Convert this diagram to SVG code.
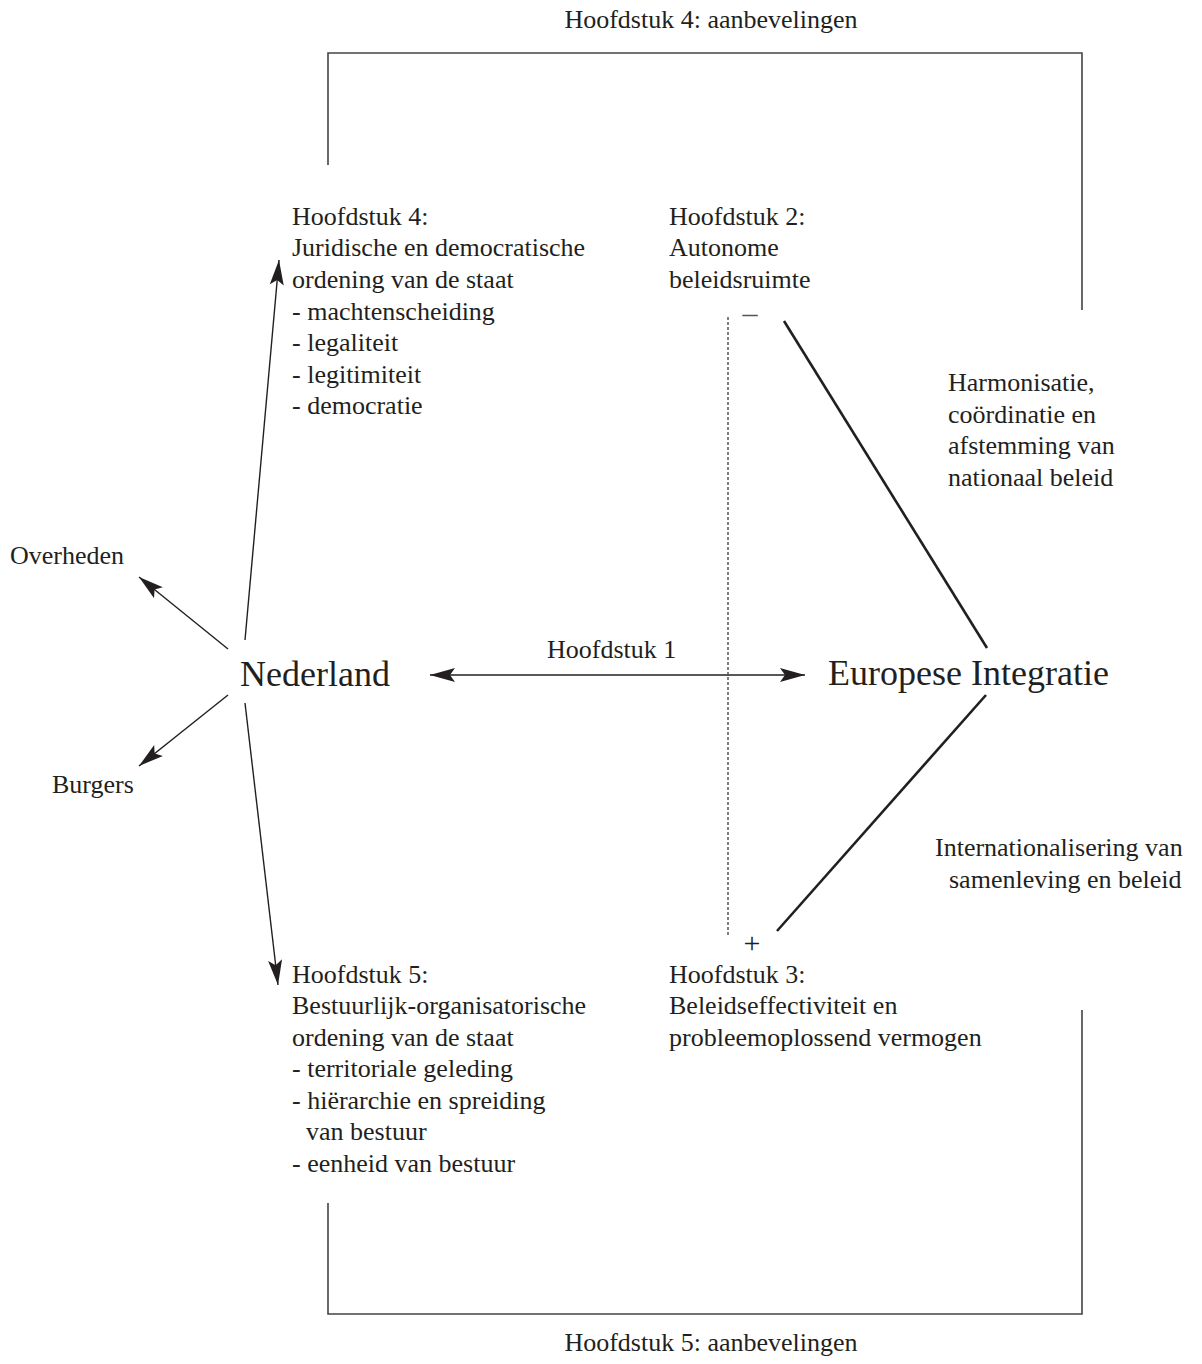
<svg xmlns="http://www.w3.org/2000/svg" width="1202" height="1364" viewBox="0 0 1202 1364">
<style>
text { font-family: "Liberation Serif", "Times New Roman", serif; font-size: 26px; fill: #231f20; }
.big { font-size: 36px; }
.sign { font-size: 30px; }
.frame { fill: none; stroke: #444; stroke-width: 1.6; }
.arrow { fill: none; stroke: #231f20; stroke-width: 1.4; }
.thick { fill: none; stroke: #231f20; stroke-width: 2.6; }
.dash { fill: none; stroke: #555; stroke-width: 1.5; stroke-dasharray: 3 2; }
</style>
<defs>
<marker id="ah" viewBox="-26 -8 28 16" refX="0" refY="0" markerWidth="28" markerHeight="16" markerUnits="userSpaceOnUse" orient="auto-start-reverse">
<path d="M0,0 L-25,-7 L-20,0 L-25,7 Z" fill="#231f20"/>
</marker>
</defs>
<rect width="1202" height="1364" fill="#fff"/>

<g id="frame">
<polyline class="frame" points="328,165 328,53 1082,53 1082,310"/>
<polyline class="frame" points="328,1203 328,1314 1082,1314 1082,1010"/>
</g>

<g id="connectors">
<line class="arrow" x1="430" y1="675" x2="805" y2="675" marker-start="url(#ah)" marker-end="url(#ah)"/>
<line class="arrow" x1="245" y1="640" x2="279" y2="260" marker-end="url(#ah)"/>
<line class="arrow" x1="245" y1="703" x2="278" y2="985" marker-end="url(#ah)"/>
<line class="arrow" x1="228" y1="649" x2="139" y2="577" marker-end="url(#ah)"/>
<line class="arrow" x1="228" y1="695" x2="139" y2="766" marker-end="url(#ah)"/>
<line class="thick" x1="784" y1="321" x2="987" y2="648"/>
<line class="thick" x1="986" y1="695" x2="777" y2="931"/>
<line class="dash" x1="728" y1="317" x2="728" y2="935"/>
</g>

<g id="label-top"><text x="711" y="28" text-anchor="middle">Hoofdstuk 4: aanbevelingen</text></g>
<g id="label-bottom"><text x="711" y="1351" text-anchor="middle">Hoofdstuk 5: aanbevelingen</text></g>

<g id="h4">
<text x="292" y="225">Hoofdstuk 4:</text>
<text x="292" y="256">Juridische en democratische</text>
<text x="292" y="288">ordening van de staat</text>
<text x="292" y="320">- machtenscheiding</text>
<text x="292" y="351">- legaliteit</text>
<text x="292" y="383">- legitimiteit</text>
<text x="292" y="414">- democratie</text>
</g>

<g id="h2">
<text x="669" y="225">Hoofdstuk 2:</text>
<text x="669" y="256">Autonome</text>
<text x="669" y="288">beleidsruimte</text>
<text class="sign" x="750" y="323" text-anchor="middle" style="fill:#555">–</text>
</g>

<g id="harmonisatie">
<text x="948" y="391">Harmonisatie,</text>
<text x="948" y="423">coördinatie en</text>
<text x="948" y="454">afstemming van</text>
<text x="948" y="486">nationaal beleid</text>
</g>

<g id="overheden"><text x="10" y="564">Overheden</text></g>
<g id="burgers"><text x="52" y="793">Burgers</text></g>

<g id="hoofdstuk1"><text x="547" y="658">Hoofdstuk 1</text></g>

<g id="nederland"><text class="big" x="240" y="686">Nederland</text></g>
<g id="europa"><text class="big" x="828" y="685">Europese Integratie</text></g>

<g id="internationalisering">
<text x="935" y="856">Internationalisering van</text>
<text x="949" y="888">samenleving en beleid</text>
</g>

<g id="h3">
<text class="sign" x="752" y="953" text-anchor="middle">+</text>
<text x="669" y="983">Hoofdstuk 3:</text>
<text x="669" y="1014">Beleidseffectiviteit en</text>
<text x="669" y="1046">probleemoplossend vermogen</text>
</g>

<g id="h5">
<text x="292" y="983">Hoofdstuk 5:</text>
<text x="292" y="1014">Bestuurlijk-organisatorische</text>
<text x="292" y="1046">ordening van de staat</text>
<text x="292" y="1077">- territoriale geleding</text>
<text x="292" y="1109">- hiërarchie en spreiding</text>
<text x="306" y="1140">van bestuur</text>
<text x="292" y="1172">- eenheid van bestuur</text>
</g>
</svg>
